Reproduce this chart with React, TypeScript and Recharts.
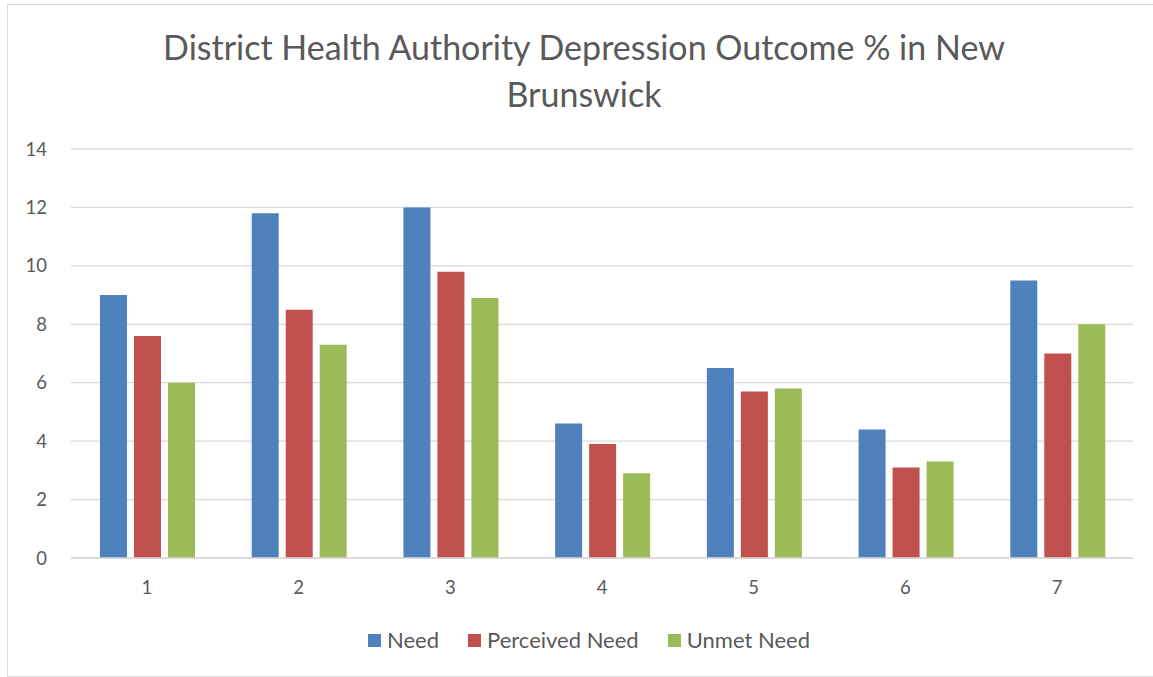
import React from "react";
import { BarChart, Bar, XAxis, YAxis, CartesianGrid, Legend } from "recharts";

const districts = ["1", "2", "3", "4", "5", "6", "7"];
const need = [9.0, 11.8, 12.0, 4.6, 6.5, 4.4, 9.5];
const perceivedNeed = [7.6, 8.5, 9.8, 3.9, 5.7, 3.1, 7.0];
const unmetNeed = [6.0, 7.3, 8.9, 2.9, 5.8, 3.3, 8.0];
const yTicks = [0, 2, 4, 6, 8, 10, 12, 14];

const data = districts.map((d, i) => ({
  district: d,
  need: need[i],
  perceived: perceivedNeed[i],
  unmet: unmetNeed[i],
}));

const series = [
  { key: "need", name: "Need", color: "#4f81bd" },
  { key: "perceived", name: "Perceived Need", color: "#c0504d" },
  { key: "unmet", name: "Unmet Need", color: "#9bbb59" },
];

const FONT = "Lato, 'Open Sans', sans-serif";
const TEXT = "#595959";

function LegendRow() {
  return (
    <div
      style={{
        display: "flex",
        justifyContent: "center",
        gap: 29,
        paddingLeft: 45,
        fontFamily: FONT,
        fontSize: 22,
        color: TEXT,
        lineHeight: "26px",
      }}
    >
      {series.map((s) => (
        <div key={s.key} style={{ display: "flex", alignItems: "center" }}>
          <span style={{ width: 13, height: 13, background: s.color, marginRight: 6, display: "inline-block" }} />
          <span>{s.name}</span>
        </div>
      ))}
    </div>
  );
}

export default function App() {
  return (
    <div style={{ position: "absolute", left: 0, top: 0, width: 1153, height: 677, overflow: "hidden", background: "#fff" }}>
      <div style={{ position: "absolute", left: 7, top: 4, width: 1170, height: 671, border: "1px solid #d9d9d9" }} />
      <div
        style={{
          position: "absolute",
          left: 0,
          top: 23,
          width: 1168,
          textAlign: "center",
          fontFamily: FONT,
          fontSize: 34,
          lineHeight: "47px",
          color: TEXT,
        }}
      >
        District Health Authority Depression Outcome % in New
        <br />
        Brunswick
      </div>
      <div style={{ position: "absolute", left: 0, top: 0 }}>
        <BarChart
          width={1153}
          height={677}
          data={data}
          margin={{ top: 149, right: 20, bottom: 63, left: 0 }}
          barGap={7}
          barCategoryGap={29}
        >
          <CartesianGrid vertical={false} stroke="#d9d9d9" strokeWidth={1.3} />
          <XAxis
            dataKey="district"
            axisLine={{ stroke: "#d9d9d9", strokeWidth: 1.3 }}
            tickLine={false}
            tickSize={0}
            tickMargin={23}
            tick={{ fill: TEXT, fontSize: 18.5, fontFamily: FONT }}
          />
          <YAxis
            width={71}
            domain={[0, 14]}
            ticks={yTicks}
            axisLine={false}
            tickLine={false}
            tickSize={0}
            tickMargin={24}
            tick={{ fill: TEXT, fontSize: 18.5, fontFamily: FONT }}
          />
          {series.map((s) => (
            <Bar key={s.key} dataKey={s.key} name={s.name} fill={s.color} isAnimationActive={false} />
          ))}
          <Legend verticalAlign="bottom" wrapperStyle={{ bottom: 24 }} content={() => <LegendRow />} />
        </BarChart>
      </div>
    </div>
  );
}
